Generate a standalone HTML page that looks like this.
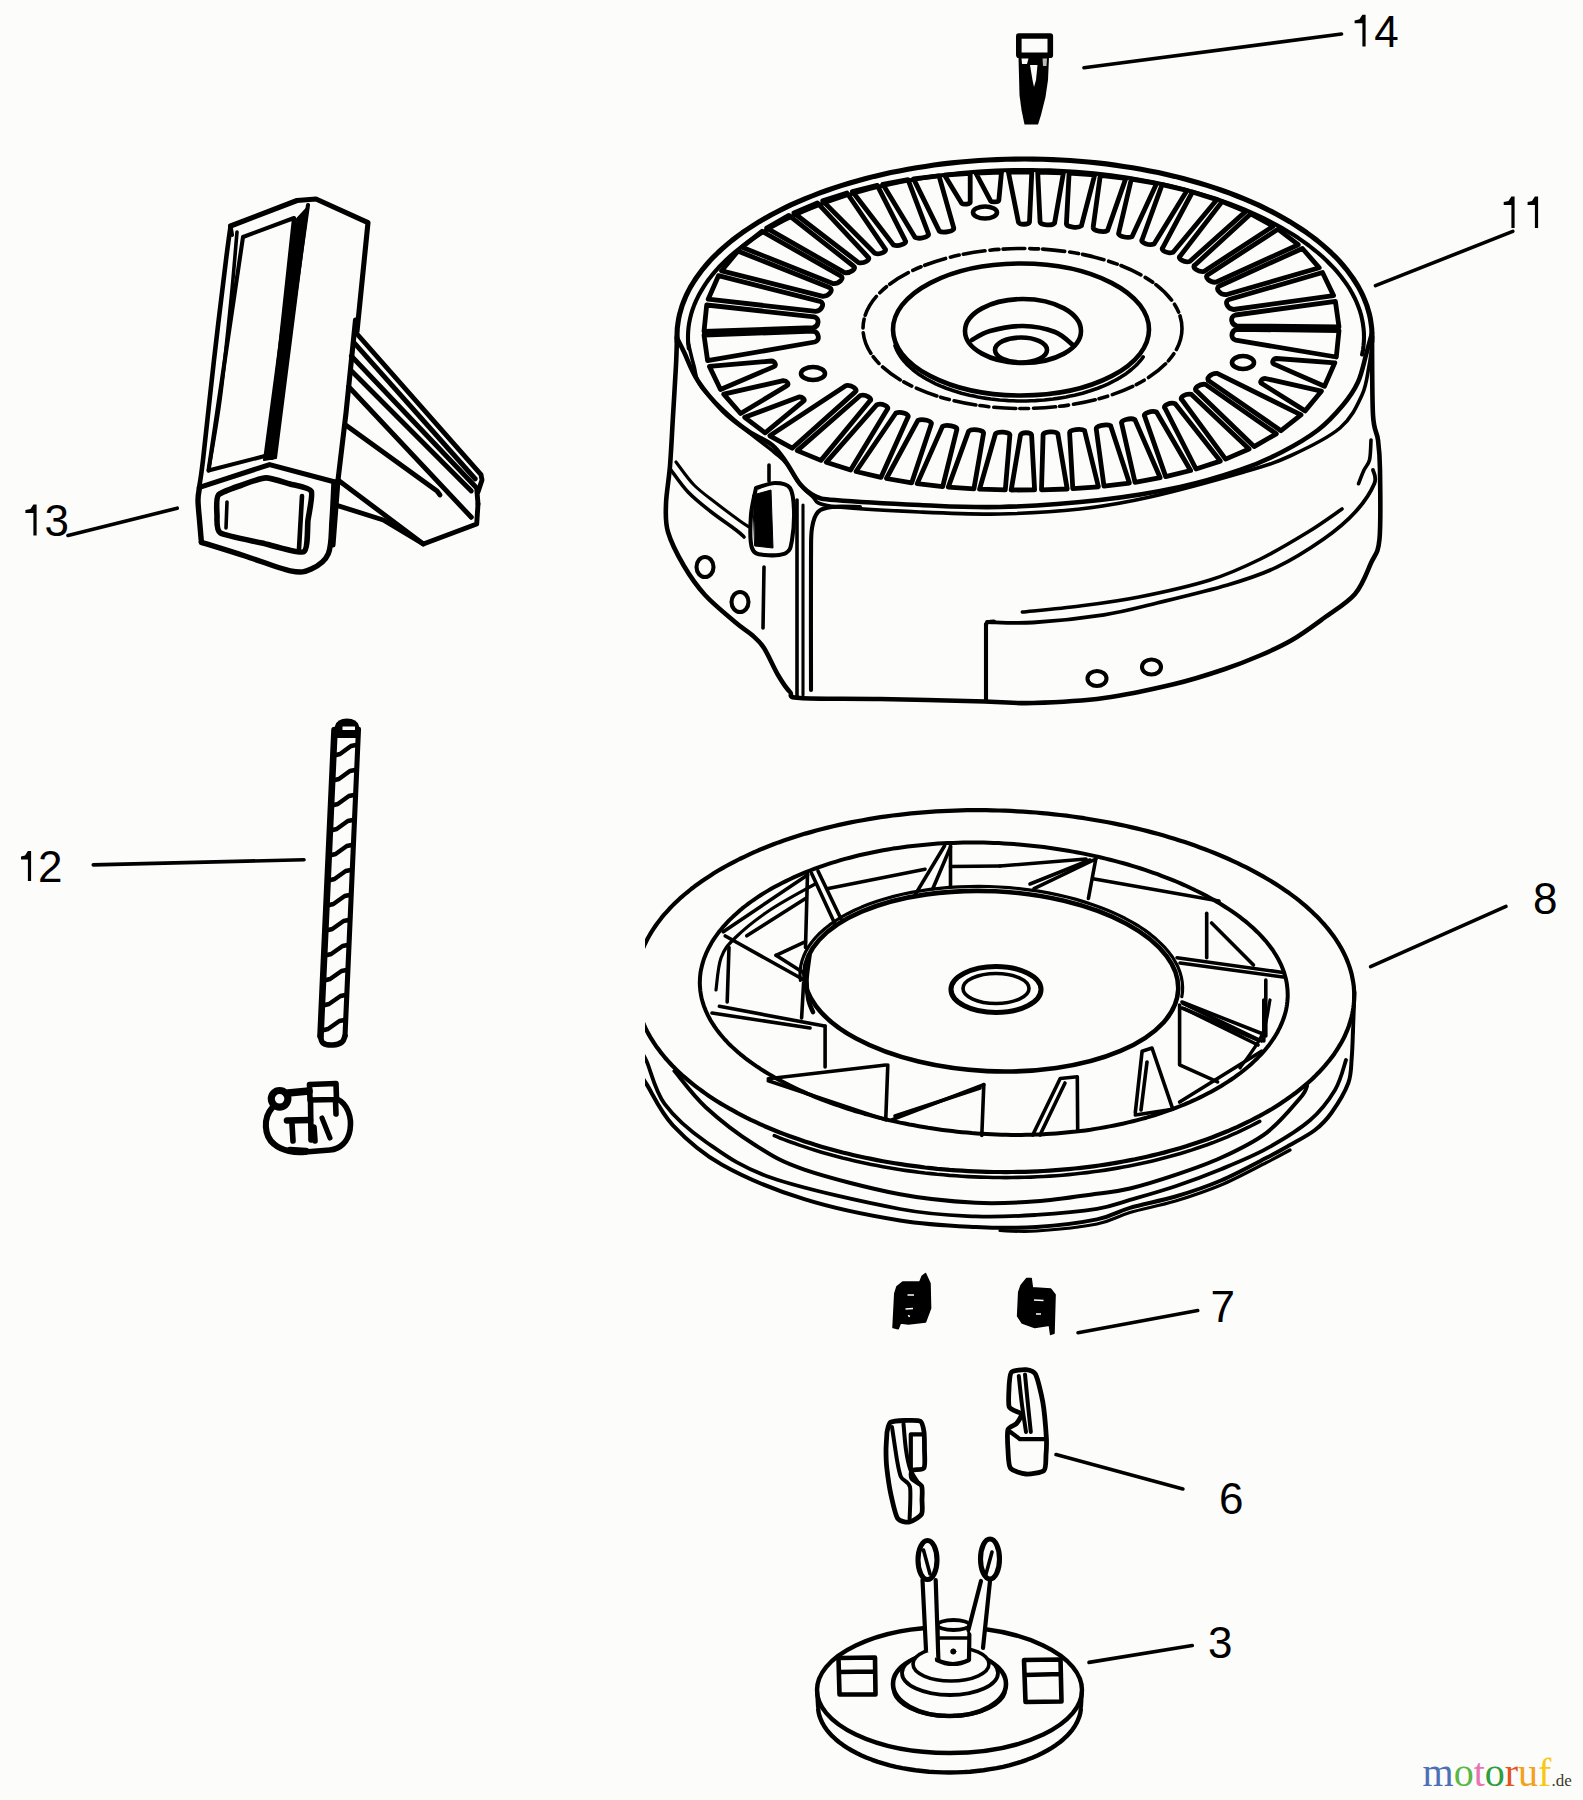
<!DOCTYPE html>
<html><head><meta charset="utf-8"><style>
html,body{margin:0;padding:0;background:#fcfdfb;}
svg{display:block;}
.lb{font-family:"Liberation Sans",sans-serif;font-size:44px;fill:#000;stroke:none;}
</style></head><body>
<svg width="1583" height="1800" viewBox="0 0 1583 1800" xmlns="http://www.w3.org/2000/svg">
<defs><clipPath id="clipP"><rect x="645" y="0" width="1000" height="1800"/></clipPath></defs>
<rect width="1583" height="1800" fill="#fcfdfb"/>
<g fill="none" stroke="#000" stroke-linecap="round" stroke-linejoin="round">
<path d="M677.2,342.2 L677,337.5 L677.1,332.9 L677.3,328.2 L677.9,323.6 L678.6,318.9 L679.6,314.3 L680.9,309.7 L682.3,305.1 L684.1,300.5 L686,295.9 L688.2,291.4 L690.6,286.9 L693.3,282.5 L696.2,278 L699.3,273.7 L702.6,269.3 L706.2,265 L709.9,260.8 L713.9,256.6 L718.1,252.5 L722.6,248.4 L727.2,244.4 L732,240.4 L737.1,236.5 L742.3,232.7 L747.8,229 L753.4,225.3 L759.2,221.7 L765.2,218.2 L771.4,214.7 L777.7,211.4 L784.3,208.1 L790.9,204.9 L797.8,201.9 L804.8,198.9 L812,196 L819.3,193.2 L826.7,190.5 L834.3,187.9 L842,185.4 L849.9,183 L857.9,180.7 L865.9,178.5 L874.1,176.4 L882.4,174.5 L890.8,172.6 L899.3,170.9 L907.9,169.3 L916.5,167.8 L925.3,166.4 L934.1,165.1 L942.9,163.9 L951.9,162.9 L960.8,162 L969.8,161.2 L978.9,160.5 L988,160 L997.1,159.6 L1006.2,159.2 L1015.4,159.1 L1024.5,159 L1033.6,159.1 L1042.8,159.2 L1051.9,159.6 L1061,160 L1070.1,160.5 L1079.2,161.2 L1088.2,162 L1097.1,162.9 L1106.1,163.9 L1114.9,165.1 L1123.7,166.4 L1132.5,167.8 L1141.1,169.3 L1149.7,170.9 L1158.2,172.6 L1166.6,174.5 L1174.9,176.4 L1183.1,178.5 L1191.1,180.7 L1199.1,183 L1207,185.4 L1214.7,187.9 L1222.3,190.5 L1229.7,193.2 L1237,196 L1244.2,198.9 L1251.2,201.9 L1258.1,204.9 L1264.7,208.1 L1271.3,211.4 L1277.6,214.7 L1283.8,218.2 L1289.8,221.7 L1295.6,225.3 L1301.2,229 L1306.7,232.7 L1311.9,236.5 L1317,240.4 L1321.8,244.4 L1326.4,248.4 L1330.9,252.5 L1335.1,256.6 L1339.1,260.8 L1342.8,265 L1346.4,269.3 L1349.7,273.7 L1352.8,278 L1355.7,282.5 L1358.4,286.9 L1360.8,291.4 L1363,295.9 L1364.9,300.5 L1366.7,305.1 L1368.1,309.7 L1369.4,314.3 L1370.4,318.9 L1371.1,323.6 L1371.7,328.2 L1371.9,332.9 L1372,337.5 L1371.8,342.2" stroke-width="5.1"/>
<path d="M688.8,348.6 L688.3,344.3 L688,339.9 L688,335.5 L688.2,331.1 L688.6,326.7 L689.3,322.3 L690.2,317.9 L691.3,313.6 L692.7,309.2 L694.3,304.9 L696.1,300.6 L698.2,296.3 L700.5,292.1 L703,287.9 L705.7,283.7 L708.6,279.5 L711.8,275.4 L715.2,271.4 L718.8,267.3 L722.6,263.4 L726.6,259.5 L730.9,255.6 L735.3,251.8 L740,248 L744.8,244.3 L749.8,240.7 L755.1,237.2 L760.5,233.7 L766.1,230.3 L771.8,226.9 L777.8,223.6 L783.9,220.5 L790.2,217.4 L796.7,214.3 L803.3,211.4 L810,208.5 L816.9,205.8 L824,203.1 L831.2,200.5 L838.5,198 L846,195.6 L853.6,193.4 L861.3,191.2 L869.1,189.1 L877.1,187.1 L885.1,185.2 L893.2,183.4 L901.5,181.7 L909.8,180.2 L918.2,178.7 L926.6,177.4 L935.2,176.1 L943.8,175 L952.4,174 L961.1,173.1 L969.9,172.3 L978.7,171.6 L987.5,171.1 L996.4,170.6 L1005.2,170.3 L1014.1,170.1 L1023,170 L1031.9,170 L1040.8,170.2 L1049.7,170.4 L1058.5,170.8 L1067.4,171.3 L1076.2,171.9 L1085,172.6 L1093.7,173.4 L1102.4,174.3 L1111,175.4 L1119.6,176.5 L1128.1,177.8 L1136.6,179.2 L1144.9,180.7 L1153.2,182.3 L1161.4,184 L1169.5,185.8 L1177.5,187.7 L1185.4,189.7 L1193.2,191.9 L1200.9,194.1 L1208.4,196.4 L1215.9,198.8 L1223.2,201.4 L1230.3,204 L1237.3,206.7 L1244.2,209.5 L1250.9,212.3 L1257.5,215.3 L1263.9,218.4 L1270.1,221.5 L1276.2,224.7 L1282.1,228 L1287.8,231.4 L1293.3,234.8 L1298.7,238.3 L1303.8,241.9 L1308.8,245.5 L1313.6,249.3 L1318.2,253 L1322.5,256.8 L1326.7,260.7 L1330.6,264.7 L1334.4,268.7 L1337.9,272.7 L1341.2,276.8 L1344.3,280.9 L1347.2,285 L1349.9,289.2 L1352.3,293.5 L1354.5,297.7 L1356.5,302 L1358.2,306.3 L1359.8,310.6 L1361.1,315 L1362.1,319.4 L1362.9,323.7 L1363.5,328.1 L1363.9,332.5 L1364,336.9 L1363.9,341.3 L1363.5,345.7 L1363,350.1 L1362.1,354.5" stroke-width="4.1"/>
<path d="M677,336 C676.8,340.8 676.7,351.7 676,365 C675.3,378.3 674,399.2 673,416 C672,432.8 671.2,451.3 670,466 C668.8,480.7 666.3,493 666,504 C665.7,515 665,521.7 668,532 C671,542.3 677.8,555.5 684,566 C690.2,576.5 696.5,585.7 705,595 C713.5,604.3 727.2,615.3 735,622 C742.8,628.7 747.2,630.7 752,635 C756.8,639.3 759.7,641.3 764,648 C768.3,654.7 773.7,667.7 778,675 C782.3,682.3 786.3,688.2 790,692 C793.7,695.8 785,696.8 800,698 C815,699.2 849.2,698.4 880,699 C910.8,699.6 959.5,700.8 985,701.5 C1010.5,702.2 1013.2,703.6 1033,703 C1052.8,702.4 1080.4,701.2 1104,698 C1127.6,694.8 1154.3,688.8 1174.5,684 C1194.7,679.2 1210.8,673.8 1225,669 C1239.2,664.2 1248.8,660.3 1260,655.5 C1271.2,650.7 1281.3,646.2 1292,640 C1302.7,633.8 1313.5,625.7 1324,618 C1334.5,610.3 1347.2,603.2 1355,594 C1362.8,584.8 1366.9,572.2 1371,563 C1375.1,553.8 1378,554.5 1379.5,539 C1381,523.5 1380.2,486.5 1380,470 C1379.8,453.5 1379.2,449.2 1378,440 C1376.8,430.8 1374,432.3 1373,415 C1372,397.7 1372.2,349.2 1372,336" stroke-width="4.6"/>
<path d="M677,338 C678.2,340.3 680.5,344.8 684,352 C687.5,359.2 691.5,371.2 698,381 C704.5,390.8 714.7,402.7 723,411 C731.3,419.3 739.8,425.3 748,431 C756.2,436.7 765.7,439.8 772,445 C778.3,450.2 781.3,455.5 786,462 C790.7,468.5 795.2,478.3 800,484 C804.8,489.7 809.2,493.3 815,496 C820.8,498.7 817.5,498.5 835,500 C852.5,501.5 892.5,503.8 920,505 C947.5,506.2 970,507.8 1000,507 C1030,506.2 1070,503.3 1100,500 C1130,496.7 1156.7,492 1180,487 C1203.3,482 1223,475.8 1240,470 C1257,464.2 1269,458.7 1282,452 C1295,445.3 1307.8,437.8 1318,430 C1328.2,422.2 1336.3,413 1343,405 C1349.7,397 1354.2,390.3 1358,382 C1361.8,373.7 1363.7,363.2 1366,355 C1368.3,346.8 1371,336.7 1372,333" stroke-width="4.6"/>
<path d="M688,342 C689,346 691.7,358.3 694,366 C696.3,373.7 694.3,378.2 702,388 C709.7,397.8 728,414.3 740,425 C752,435.7 766.3,445.7 774,452 C781.7,458.3 781.8,457.8 786,463 C790.2,468.2 794.7,477.5 799,483 C803.3,488.5 806.8,492.2 812,496 C817.2,499.8 812,503.3 830,506 C848,508.7 891.7,510.7 920,512 C948.3,513.3 973.3,514.5 1000,514 C1026.7,513.5 1055,511.8 1080,509 C1105,506.2 1122.7,503.2 1150,497 C1177.3,490.8 1220.7,478.8 1244,472 C1267.3,465.2 1274,463.3 1290,456 C1306,448.7 1328,438.2 1340,428 C1352,417.8 1357.2,405.3 1362,395 C1366.8,384.7 1367.3,374.3 1369,366 C1370.7,357.7 1371.5,348.5 1372,345" stroke-width="3.6"/>
<path d="M671,470 C673.8,473.7 681.5,485.2 688,492 C694.5,498.8 702,504.7 710,511 C718,517.3 730.3,525.7 736,530 C741.7,534.3 742.7,535.8 744,537" stroke-width="3.6"/>
<path d="M676,462 C679,465.8 687.3,478.2 694,485 C700.7,491.8 708.3,497 716,503 C723.7,509 734.5,517 740,521 C745.5,525 747.5,526 749,527" stroke-width="3.1"/>
<path d="M1373,470 C1373.2,472.3 1377.2,476.7 1374.3,483.7 C1371.3,490.7 1363.7,502.8 1355.3,512 C1346.9,521.2 1336.9,529.8 1323.7,539 C1310.5,548.2 1292.3,559.7 1276.3,567.4 C1260.3,575.1 1247.5,579.1 1227.6,585 C1207.7,590.9 1177.6,598 1157,603 C1136.4,608 1124.7,611.5 1104,614.8 C1083.3,618 1052.5,621.3 1033,622.5 C1013.5,623.7 994.7,622.1 987,622" stroke-width="3.8"/>
<path d="M1342,509 C1336.3,512.8 1321.6,523.7 1308,532 C1294.4,540.3 1276.8,551 1260.5,559 C1244.2,567 1230.2,573.7 1210,580 C1189.8,586.3 1160.7,592.7 1139,597 C1117.3,601.3 1099.4,603.5 1080,606 C1060.6,608.5 1032,611 1022.4,612" stroke-width="3.6"/>
<path d="M1358.5,483.7 C1359.4,481.4 1362.2,473.9 1364,470 C1365.8,466.1 1368.3,465 1369.5,460 C1370.7,455 1370.8,443.3 1371,440" stroke-width="3.6"/>
<path d="M811,690 C811,668.3 810.8,587 811,560 C811.2,533 810.8,536 812,528 C813.2,520 814.7,515.5 818,512 C821.3,508.5 825,507.8 832,507 C839,506.2 855.3,507 860,507" stroke-width="4.1"/>
<path d="M797,500 L797,697" stroke-width="3.6"/>
<path d="M803,505 L803,695" stroke-width="3.1"/>
<path d="M986,701 L986,624 Q987,621.5 994,621.5" stroke-width="4.1"/>
<path d="M764,567 L763,628" stroke-width="3.6"/>
<path d="M769,465 L769,481" stroke-width="3.6"/>
<ellipse cx="705" cy="567" rx="8.5" ry="10" stroke-width="4.1"/>
<ellipse cx="740" cy="602" rx="8.5" ry="10" stroke-width="4.1"/>
<ellipse cx="1097" cy="678.5" rx="9.5" ry="7.5" stroke-width="4.1"/>
<ellipse cx="1151.5" cy="667" rx="9.5" ry="7.5" stroke-width="4.1"/>
<path d="M756,488 C759.2,487.2 769.3,483 775,483 C780.7,483 786.8,483.5 790,488 C793.2,492.5 793.7,501.3 794,510 C794.3,518.7 793.3,532.8 792,540 C790.7,547.2 790.5,550.5 786,553 C781.5,555.5 770.7,555.8 765,555 C759.3,554.2 754.3,554.7 752,548 C749.7,541.3 750.3,525 751,515 C751.7,505 755.2,492.5 756,488" stroke-width="4.1"/>
<path d="M753,495 L771,490 L773,548 L755,546Z" fill="#000" stroke-width="1"/>
<ellipse cx="1022.5" cy="328.5" rx="159.5" ry="80" stroke-width="3.6" stroke-dasharray="22 5 9 4"/>
<ellipse cx="1021" cy="329.5" rx="128" ry="66" stroke-width="4.6"/>
<path d="M1143.2,356.9 L1141.6,359.1 L1139.8,361.3 L1137.9,363.4 L1135.9,365.5 L1133.7,367.5 L1131.4,369.5 L1128.9,371.5 L1126.4,373.4 L1123.7,375.2 L1120.8,377.1 L1117.9,378.8 L1114.8,380.5 L1111.6,382.2 L1108.3,383.8 L1104.9,385.3 L1101.4,386.8 L1097.8,388.2 L1094.1,389.5 L1090.4,390.8 L1086.5,392 L1082.6,393.2 L1078.5,394.2 L1074.5,395.2 L1070.3,396.1 L1066.1,397 L1061.9,397.7 L1057.6,398.4 L1053.2,399 L1048.8,399.5 L1044.4,400 L1040,400.3 L1035.5,400.6 L1031,400.8 L1026.5,401 L1022,401 L1017.5,401 L1013,400.8 L1008.5,400.6 L1004,400.3 L999.6,400 L995.2,399.5 L990.8,399 L986.4,398.4 L982.1,397.7 L977.9,397 L973.7,396.1 L969.5,395.2 L965.5,394.2 L961.4,393.2 L957.5,392 L953.6,390.8 L949.9,389.5 L946.2,388.2 L942.6,386.8 L939.1,385.3 L935.7,383.8 L932.4,382.2 L929.2,380.5 L926.1,378.8 L923.2,377.1 L920.3,375.2 L917.6,373.4 L915.1,371.5 L912.6,369.5 L910.3,367.5 L908.1,365.5 L906.1,363.4 L904.2,361.3 L902.4,359.1 L900.8,356.9 L899.3,354.7 L898,352.5 L896.8,350.2 L895.8,347.9 L895,345.6" stroke-width="3.6"/>
<ellipse cx="1023" cy="331" rx="58" ry="32" stroke-width="4.6"/>
<path d="M972,340 C975,338.5 981.5,333.3 990,331 C998.5,328.7 1012.2,325.8 1023,326 C1033.8,326.2 1046.5,328.7 1055,332 C1063.5,335.3 1070.8,343.7 1074,346" stroke-width="4.6"/>
<ellipse cx="1021" cy="350" rx="26" ry="12.5" stroke-width="4.6"/>
<path d="M1008.4,172.1 L1018.4,222.1 C1019.6,225 1028.3,225 1029.5,222 L1031.8,172 Z" stroke-width="4.8"/>
<path d="M1037.7,172.1 L1040.1,222.3 C1041.1,225.3 1052.4,225.9 1054.6,223 L1063.4,172.8 Z" stroke-width="4.8"/>
<path d="M1069.1,173.1 L1066.4,224 C1066.7,227.1 1078.4,228.5 1081.4,225.8 L1094.7,174.9 Z" stroke-width="4.8"/>
<path d="M1100.3,175.4 L1093.1,227.6 C1092.6,230.7 1103.9,232.9 1107.6,230.4 L1125.8,178.4 Z" stroke-width="4.8"/>
<path d="M1131.3,179.2 L1118.7,233 C1117.4,236 1127.8,238.8 1132.1,236.6 L1156.6,183.5 Z" stroke-width="4.8"/>
<path d="M1162.1,184.6 L1142.1,239.7 C1140,242.6 1149.3,245.9 1154.1,244 L1187,190.5 Z" stroke-width="4.8"/>
<path d="M1192.4,192 L1162.8,247.6 C1160,250.3 1168,254 1173.1,252.3 L1216.8,199.7 Z" stroke-width="4.8"/>
<path d="M1222.1,201.6 L1180.2,256 C1176.8,258.5 1184.2,262.8 1189.7,261.5 L1245.8,211.4 Z" stroke-width="4.8"/>
<path d="M1250.8,213.8 L1195,264.9 C1191.2,267.3 1198.1,272.3 1203.9,271.4 L1273.2,226.2 Z" stroke-width="4.8"/>
<path d="M1277.9,229.2 L1207.9,274.7 C1203.6,276.9 1209.9,282.8 1215.9,282.2 L1298.3,244.7 Z" stroke-width="4.8"/>
<path d="M1302.4,248.5 L1219.4,286 C1214.6,288 1219.8,294.8 1226,294.7 L1319.3,267.8 Z" stroke-width="4.8"/>
<path d="M1322.5,272.5 L1229,299.5 C1223.8,301.3 1227.4,309.1 1233.6,309.5 L1333.6,295.6 Z" stroke-width="4.8"/>
<path d="M1335.4,301.3 L1235.3,315 C1229.6,316.4 1230.9,324.8 1236.9,325.8 L1339,327 Z" stroke-width="4.8"/>
<path d="M1339,330.6 L1237,329.3 C1231,330.3 1230,338.8 1235.7,340.2 L1336.3,357 Z" stroke-width="4.8"/>
<path d="M1334.8,362.8 L1276.6,358.5 C1273.1,358.7 1271.2,363.2 1274.1,364.1 L1324.5,386.3 Z" stroke-width="4.8"/>
<path d="M1321.4,391.2 L1265.3,378.5 C1261.8,378.5 1259,382.4 1261.7,383.5 L1305.1,410.9 Z" stroke-width="4.8"/>
<path d="M1301,414.8 L1217.2,373.4 C1211.1,372.9 1205,378.9 1209.3,381.1 L1281,430.7 Z" stroke-width="4.8"/>
<path d="M1276.3,433.8 L1205.4,384.4 C1199.6,383.5 1192.7,388.6 1196.6,391 L1254.1,446.6 Z" stroke-width="4.8"/>
<path d="M1249.1,449 L1191.5,394.4 C1186,393.1 1178.6,397.5 1182.1,400 L1225.6,459.1 Z" stroke-width="4.8"/>
<path d="M1220.3,461.1 L1175.2,403.7 C1170,402 1162.2,405.8 1165.1,408.4 L1196,469 Z" stroke-width="4.8"/>
<path d="M1190.6,470.5 L1156.5,412 C1151.7,410.1 1142.5,413.5 1144.7,416.4 L1165.7,476.6 Z" stroke-width="4.8"/>
<path d="M1160.2,477.7 L1134.9,419.6 C1130.5,417.4 1120.2,420.3 1121.6,423.3 L1135,482.3 Z" stroke-width="4.8"/>
<path d="M1129.4,483.1 L1110.7,425.9 C1106.9,423.5 1095.7,425.7 1096.2,428.8 L1104,486.2 Z" stroke-width="4.8"/>
<path d="M1098.4,486.8 L1084.6,430.7 C1081.5,428.1 1069.8,429.5 1069.6,432.6 L1072.8,488.7 Z" stroke-width="4.8"/>
<path d="M1067.2,489 L1057.8,433.7 C1055.4,430.9 1044,431.6 1043.1,434.6 L1041.5,489.8 Z" stroke-width="4.8"/>
<path d="M1034.6,489.9 L1031.6,434.9 C1030.4,432 1021.7,432 1020.5,435 L1011.2,490 Z" stroke-width="4.8"/>
<path d="M1005.3,489.9 L1009.9,434.7 C1008.9,431.7 997.6,431.1 995.4,434 L979.6,489.2 Z" stroke-width="4.8"/>
<path d="M973.9,488.9 L983.6,433 C983.3,429.9 971.6,428.5 968.6,431.2 L948.3,487.1 Z" stroke-width="4.8"/>
<path d="M942.7,486.6 L956.9,429.4 C957.4,426.3 946.1,424.1 942.4,426.6 L917.2,483.6 Z" stroke-width="4.8"/>
<path d="M911.7,482.8 L931.3,424 C932.6,421 922.2,418.2 917.9,420.4 L886.4,478.5 Z" stroke-width="4.8"/>
<path d="M880.9,477.4 L907.9,417.3 C910,414.4 900.7,411.1 895.9,413 L856,471.5 Z" stroke-width="4.8"/>
<path d="M850.6,470 L887.2,409.4 C890,406.7 882,403 876.9,404.7 L826.2,462.3 Z" stroke-width="4.8"/>
<path d="M820.9,460.4 L869.8,401 C873.2,398.5 865.8,394.2 860.3,395.5 L797.2,450.6 Z" stroke-width="4.8"/>
<path d="M792.2,448.2 L855,392.1 C858.8,389.7 851.9,384.7 846.1,385.6 L769.8,435.8 Z" stroke-width="4.8"/>
<path d="M765.1,432.8 L803.5,401.2 C805.9,400 802.4,396.7 799,397 L744.7,417.3 Z" stroke-width="4.8"/>
<path d="M740.6,413.5 L787,385.6 C789.7,384.4 786.8,380.6 783.3,380.7 L723.7,394.2 Z" stroke-width="4.8"/>
<path d="M720.5,389.5 L774,366.6 C776.9,365.6 774.9,361.3 771.4,361 L709.4,366.4 Z" stroke-width="4.8"/>
<path d="M707.6,360.7 L814.7,342 C820.4,340.6 819.1,332.2 813.1,331.2 L704,335 Z" stroke-width="4.8"/>
<path d="M704,331.4 L813,327.7 C819,326.7 820,318.2 814.3,316.8 L706.7,305 Z" stroke-width="4.8"/>
<path d="M708.2,299.2 L815.7,311.4 C821.9,310.9 825.3,303 820,301.3 L718.5,275.7 Z" stroke-width="4.8"/>
<path d="M721.6,270.8 L822.9,296.3 C829.1,296.4 834.2,289.5 829.4,287.5 L737.9,251.1 Z" stroke-width="4.8"/>
<path d="M742,247.2 L832.8,283.6 C838.9,284.1 845,278.1 840.7,275.9 L762,231.3 Z" stroke-width="4.8"/>
<path d="M766.7,228.2 L844.6,272.6 C850.4,273.5 857.3,268.4 853.4,266 L788.9,215.4 Z" stroke-width="4.8"/>
<path d="M793.9,213 L858.5,262.6 C864,263.9 871.4,259.5 867.9,257 L817.4,202.9 Z" stroke-width="4.8"/>
<path d="M822.7,200.9 L874.8,253.3 C880,255 887.8,251.2 884.9,248.6 L847,193 Z" stroke-width="4.8"/>
<path d="M852.4,191.5 L893.5,245 C898.3,246.9 907.5,243.5 905.3,240.6 L877.3,185.4 Z" stroke-width="4.8"/>
<path d="M882.8,184.3 L915.1,237.4 C919.5,239.6 929.8,236.7 928.4,233.7 L908,179.7 Z" stroke-width="4.8"/>
<path d="M913.6,178.9 L939.3,231.1 C943.1,233.5 954.3,231.3 953.8,228.2 L939,175.8 Z" stroke-width="4.8"/>
<path d="M944.6,175.2 L961.8,203.4 C963.6,204.8 970.1,204 970.2,202.3 L970.2,173.3 Z" stroke-width="4.8"/>
<path d="M975.8,173 L990.6,200.9 C991.9,202.5 998.2,202.1 998.8,200.4 L1001.5,172.2 Z" stroke-width="4.8"/>
<ellipse cx="985" cy="212.5" rx="12" ry="6" stroke-width="4.6"/>
<ellipse cx="813" cy="373.5" rx="12" ry="6.5" stroke-width="4.6"/>
<ellipse cx="1243" cy="362.5" rx="11" ry="6.5" stroke-width="4.6"/>
<path d="M635.5,990 L635.4,986.8 L635.4,983.6 L635.5,980.4 L635.7,977.2 L636.1,974 L636.5,970.8 L637.1,967.6 L637.8,964.4 L638.6,961.2 L639.5,958.1 L640.5,954.9 L641.7,951.7 L642.9,948.5 L644.3,945.4 L645.8,942.3 L647.4,939.1 L649.1,936 L650.9,932.9 L652.8,929.9 L654.9,926.8 L657,923.7 L659.3,920.7 L661.6,917.7 L664.1,914.7 L666.7,911.8 L669.4,908.8 L672.2,905.9 L675.1,903 L678.1,900.2 L681.2,897.3 L684.5,894.5 L687.8,891.8 L691.2,889 L694.7,886.3 L698.3,883.7 L702.1,881 L705.9,878.4 L709.8,875.9 L713.8,873.3 L717.9,870.8 L722.1,868.4 L726.3,866 L730.7,863.6 L735.1,861.3 L739.6,859 L744.3,856.8 L748.9,854.6 L753.7,852.4 L758.5,850.3 L763.5,848.3 L768.5,846.3 L773.5,844.3 L778.6,842.4 L783.8,840.6 L789.1,838.8 L794.4,837 L799.8,835.3 L805.3,833.6 L810.8,832.1 L816.3,830.5 L822,829 L827.6,827.6 L833.3,826.2 L839.1,824.9 L844.9,823.6 L850.8,822.4 L856.7,821.3 L862.6,820.2 L868.6,819.1 L874.6,818.1 L880.6,817.2 L886.6,816.3 L892.7,815.5 L898.9,814.8 L905,814.1 L911.2,813.4 L917.3,812.8 L923.5,812.3 L929.8,811.8 L936,811.4 L942.2,811.1 L948.5,810.8 L954.7,810.6 L961,810.4 L967.2,810.2 L973.5,810.2 L979.8,810.2 L986,810.2 L992.3,810.3 L998.5,810.5 L1004.8,810.7 L1011,810.9 L1017.2,811.3 L1023.4,811.6 L1029.6,812.1 L1035.8,812.5 L1041.9,813.1 L1048.1,813.7 L1054.2,814.3 L1060.3,815 L1066.3,815.7 L1072.3,816.5 L1078.3,817.4 L1084.3,818.2 L1090.2,819.2 L1096.1,820.2 L1102,821.2 L1107.8,822.3 L1113.6,823.4 L1119.4,824.6 L1125.1,825.8 L1130.8,827.1 L1136.4,828.4 L1142,829.7 L1147.5,831.1 L1153,832.6 L1158.4,834.1 L1163.8,835.6 L1169.1,837.2 L1174.4,838.8 L1179.6,840.4 L1184.8,842.1 L1189.9,843.8 L1194.9,845.6 L1199.9,847.4 L1204.9,849.2 L1209.7,851.1 L1214.5,853 L1219.3,855 L1224,857 L1228.6,859 L1233.1,861.1 L1237.6,863.1 L1242,865.3 L1246.4,867.4 L1250.6,869.6 L1254.8,871.8 L1258.9,874.1 L1263,876.4 L1267,878.7 L1270.9,881 L1274.7,883.4 L1278.4,885.8 L1282.1,888.2 L1285.7,890.7 L1289.2,893.1 L1292.6,895.6 L1296,898.2 L1299.2,900.7 L1302.4,903.3 L1305.5,905.9 L1308.5,908.6 L1311.4,911.2 L1314.2,913.9 L1316.9,916.6 L1319.6,919.3 L1322.1,922.1 L1324.6,924.8 L1327,927.6 L1329.2,930.4 L1331.4,933.2 L1333.5,936.1 L1335.5,938.9 L1337.4,941.8 L1339.2,944.7 L1340.9,947.6 L1342.5,950.6 L1344,953.5 L1345.4,956.4 L1346.7,959.4 L1347.9,962.4 L1349,965.4 L1350,968.4 L1350.9,971.4 L1351.7,974.4 L1352.3,977.5 L1352.9,980.5 L1353.4,983.5 L1353.8,986.6 L1354,989.7 L1354.2,992.7 L1354.2,995.8 L1354.1,998.9 L1354,1001.9 L1353.7,1005 L1353.3,1008.1 L1352.8,1011.2 L1352.2,1014.2 L1351.5,1017.3 L1350.6,1020.4 L1349.7,1023.5 L1348.7,1026.5 L1347.5,1029.6 L1346.2,1032.6 L1344.9,1035.7 L1343.4,1038.7 L1341.8,1041.7 L1340.1,1044.7 L1338.3,1047.7 L1336.4,1050.7 L1334.4,1053.7 L1332.2,1056.7 L1330,1059.6 L1327.6,1062.5 L1325.2,1065.4 L1322.6,1068.3 L1320,1071.2 L1317.2,1074 L1314.4,1076.9 L1311.4,1079.7 L1308.3,1082.5 L1305.2,1085.2 L1301.9,1087.9 L1298.5,1090.6 L1295.1,1093.3 L1291.5,1095.9 L1287.8,1098.5 L1284.1,1101.1 L1280.2,1103.7 L1276.3,1106.2 L1272.3,1108.7 L1268.2,1111.1 L1264,1113.5 L1259.7,1115.9 L1255.3,1118.2 L1250.8,1120.5 L1246.3,1122.7 L1241.7,1124.9 L1237,1127.1 L1232.2,1129.2 L1227.4,1131.3 L1222.4,1133.3 L1217.4,1135.3 L1212.4,1137.3 L1207.2,1139.2 L1202,1141 L1196.8,1142.8 L1191.4,1144.6 L1186.1,1146.3 L1180.6,1147.9 L1175.1,1149.5 L1169.5,1151.1 L1163.9,1152.6 L1158.3,1154 L1152.5,1155.4 L1146.8,1156.7 L1141,1158 L1135.1,1159.3 L1129.2,1160.4 L1123.3,1161.5 L1117.3,1162.6 L1111.3,1163.6 L1105.3,1164.6 L1099.2,1165.5 L1093.1,1166.3 L1087,1167.1 L1080.8,1167.8 L1074.7,1168.5 L1068.5,1169.1 L1062.3,1169.7 L1056,1170.2 L1049.8,1170.6 L1043.5,1171 L1037.3,1171.3 L1031,1171.6 L1024.7,1171.8 L1018.4,1171.9 L1012.2,1172 L1005.9,1172.1 L999.6,1172 L993.3,1172 L987,1171.8 L980.8,1171.6 L974.5,1171.4 L968.2,1171.1 L962,1170.7 L955.8,1170.3 L949.6,1169.9 L943.4,1169.3 L937.2,1168.8 L931.1,1168.1 L925,1167.5 L918.9,1166.7 L912.8,1165.9 L906.7,1165.1 L900.7,1164.2 L894.7,1163.2 L888.8,1162.2 L882.9,1161.2 L877,1160.1 L871.2,1158.9 L865.4,1157.7 L859.6,1156.5 L853.9,1155.2 L848.2,1153.8 L842.6,1152.5 L837,1151 L831.5,1149.5 L826,1148 L820.6,1146.4 L815.2,1144.8 L809.9,1143.1 L804.7,1141.4 L799.4,1139.6 L794.3,1137.8 L789.2,1136 L784.2,1134.1 L779.2,1132.2 L774.3,1130.2 L769.5,1128.2 L764.7,1126.2 L760,1124.1 L755.4,1121.9 L750.8,1119.8 L746.3,1117.6 L741.9,1115.3 L737.6,1113.1 L733.3,1110.7 L729.1,1108.4 L725,1106 L720.9,1103.6 L717,1101.2 L713.1,1098.7 L709.3,1096.2 L705.6,1093.6 L702,1091 L698.4,1088.4 L695,1085.8 L691.6,1083.1 L688.3,1080.4 L685.1,1077.7 L682,1075 L679,1072.2 L676.1,1069.4 L673.2,1066.6 L670.5,1063.7 L667.9,1060.9 L665.3,1058 L662.9,1055 L660.5,1052.1 L658.3,1049.1 L656.1,1046.2 L654.1,1043.2 L652.2,1040.1 L650.3,1037.1 L648.6,1034.1 L646.9,1031 L645.4,1027.9 L644,1024.8 L642.7,1021.7 L641.5,1018.6 L640.4,1015.4 L639.4,1012.3 L638.5,1009.1 L637.7,1006 L637,1002.8 L636.5,999.6 L636,996.4 L635.7,993.2Z" stroke-width="4.2" clip-path="url(#clipP)"/>
<path d="M774.3,1135.7 L779.2,1137.7 L784.2,1139.6 L789.2,1141.5 L794.3,1143.3 L799.4,1145.1 L804.7,1146.9 L809.9,1148.6 L815.2,1150.3 L820.6,1151.9 L826,1153.5 L831.5,1155 L837,1156.5 L842.6,1158 L848.2,1159.3 L853.9,1160.7 L859.6,1162 L865.4,1163.2 L871.2,1164.4 L877,1165.6 L882.9,1166.7 L888.8,1167.7 L894.7,1168.7 L900.7,1169.7 L906.7,1170.6 L912.8,1171.4 L918.9,1172.2 L925,1173 L931.1,1173.6 L937.2,1174.3 L943.4,1174.8 L949.6,1175.4 L955.8,1175.8 L962,1176.2 L968.2,1176.6 L974.5,1176.9 L980.8,1177.1 L987,1177.3 L993.3,1177.5 L999.6,1177.5 L1005.9,1177.6 L1012.2,1177.5 L1018.4,1177.4 L1024.7,1177.3 L1031,1177.1 L1037.3,1176.8 L1043.5,1176.5 L1049.8,1176.1 L1056,1175.7 L1062.3,1175.2 L1068.5,1174.6 L1074.7,1174 L1080.8,1173.3 L1087,1172.6 L1093.1,1171.8 L1099.2,1171 L1105.3,1170.1 L1111.3,1169.1 L1117.3,1168.1 L1123.3,1167 L1129.2,1165.9 L1135.1,1164.8 L1141,1163.5 L1146.8,1162.2 L1152.5,1160.9 L1158.3,1159.5 L1163.9,1158.1 L1169.5,1156.6 L1175.1,1155 L1180.6,1153.4 L1186.1,1151.8 L1191.4,1150.1 L1196.8,1148.3 L1202,1146.5 L1207.2,1144.7 L1212.4,1142.8 L1217.4,1140.8 L1222.4,1138.8 L1227.4,1136.8 L1232.2,1134.7 L1237,1132.6 L1241.7,1130.4 L1246.3,1128.2 L1250.8,1126 L1255.3,1123.7 L1259.7,1121.4" stroke-width="3.6"/>
<path d="M1354.5,992 L1353,1032" stroke-width="3.8"/>
<g clip-path="url(#clipP)">
<path d="M674.5,1071 C679.7,1077 692.3,1094.9 705.7,1107.2 C719.1,1119.5 738.6,1134.6 755,1145 C771.4,1155.4 780.1,1161.4 804.3,1169.6 C828.5,1177.8 871.4,1188.8 900,1194.3 C928.6,1199.8 953.1,1201.6 975.8,1202.8 C998.5,1204 1016.2,1202.8 1036.4,1201.3 C1056.6,1199.8 1081.4,1195.8 1097,1193.7 C1112.6,1191.6 1116.9,1191.6 1130,1188.5 C1143.1,1185.4 1160.3,1180 1175.5,1174.9 C1190.7,1169.8 1205.8,1164.8 1221,1157.8 C1236.2,1150.8 1253.2,1142.8 1266.5,1132.8 C1279.8,1122.8 1293.8,1105.3 1300.6,1097.5 C1307.3,1089.7 1305.9,1087.9 1307,1086" stroke-width="4"/>
<path d="M640,1050 C641.1,1051.9 642.5,1052.2 646.6,1061.2 C650.7,1070.2 654.8,1090.5 664.6,1103.9 C674.5,1117.3 687.9,1129.4 705.7,1141.7 C723.5,1154 739,1166.6 771.4,1177.8 C803.8,1189 865.9,1202.6 900,1209 C934.1,1215.4 953.1,1215.4 975.8,1216.4 C998.5,1217.4 1016.2,1216.2 1036.4,1214.9 C1056.6,1213.6 1081.4,1211.3 1097,1208.8 C1112.6,1206.3 1116.9,1203.7 1130,1199.9 C1143.1,1196.1 1160.3,1191.3 1175.5,1186.2 C1190.7,1181.1 1205.8,1175.5 1221,1169.2 C1236.2,1163 1251.7,1156.9 1266.5,1148.7 C1281.3,1140.5 1298.6,1130.1 1310,1120.3 C1321.4,1110.5 1329,1100 1335,1090 C1341,1080 1344.2,1065 1346,1060" stroke-width="3.8"/>
<path d="M640,1074 C641.1,1075.7 641.1,1075.7 646.6,1084.2 C652.1,1092.8 660.3,1111.9 672.9,1125.3 C685.5,1138.7 700.1,1152.4 722,1164.7 C743.9,1177 774.6,1189.9 804.3,1199.2 C834,1208.5 871.4,1215.9 900,1220.5 C928.6,1225.1 953.1,1225.9 975.8,1227 C998.5,1228.1 1016.2,1228.3 1036.4,1227 C1056.6,1225.7 1081.4,1222.6 1097,1219.4 C1112.6,1216.2 1116.9,1211.6 1130,1207.8 C1143.1,1204 1160.3,1201 1175.5,1196.5 C1190.7,1192 1205.8,1187 1221,1180.5 C1236.2,1174 1255,1163.7 1266.5,1157.8 C1278,1151.9 1281.9,1149.6 1290,1145 C1298.1,1140.4 1308,1135.4 1315,1130 C1322,1124.6 1326.2,1120.3 1331.7,1112.5 C1337.2,1104.7 1345,1092.1 1348.3,1083 C1351.6,1073.9 1350.9,1066.8 1351.7,1058 C1352.5,1049.2 1352.8,1034.7 1353,1030" stroke-width="4"/>
<path d="M1000,1230.5 C1006.1,1230.6 1020.2,1232.1 1036.4,1231 C1052.6,1229.9 1081.4,1227.1 1097,1224 C1112.6,1220.9 1116.9,1216.3 1130,1212.5 C1143.1,1208.7 1160.3,1205.6 1175.5,1201 C1190.7,1196.4 1205.8,1191.4 1221,1185 C1236.2,1178.6 1255,1168.3 1266.5,1162.5 C1278,1156.7 1286.1,1152.1 1290,1150" stroke-width="3.2"/>
</g>
<path d="M700.3,990.7 L700.1,988.1 L699.9,985.6 L699.8,983.1 L699.9,980.5 L700,977.9 L700.2,975.4 L700.5,972.8 L700.9,970.3 L701.5,967.7 L702.1,965.1 L702.8,962.6 L703.6,960 L704.5,957.4 L705.5,954.9 L706.6,952.3 L707.8,949.8 L709.1,947.2 L710.5,944.7 L711.9,942.1 L713.5,939.6 L715.2,937.1 L717,934.6 L718.8,932.1 L720.8,929.7 L722.8,927.2 L725,924.8 L727.2,922.4 L729.6,919.9 L732,917.6 L734.5,915.2 L737.1,912.9 L739.8,910.5 L742.5,908.2 L745.4,906 L748.4,903.7 L751.4,901.5 L754.5,899.3 L757.7,897.2 L760.9,895 L764.3,892.9 L767.7,890.9 L771.2,888.8 L774.8,886.8 L778.4,884.9 L782.1,883 L785.9,881.1 L789.8,879.2 L793.7,877.4 L797.7,875.6 L801.7,873.9 L805.8,872.2 L810,870.5 L814.2,868.9 L818.4,867.4 L822.8,865.8 L827.1,864.4 L831.6,862.9 L836.1,861.6 L840.6,860.2 L845.1,858.9 L849.8,857.7 L854.4,856.5 L859.1,855.3 L863.8,854.2 L868.6,853.2 L873.4,852.2 L878.2,851.2 L883.1,850.3 L887.9,849.5 L892.8,848.6 L897.8,847.9 L902.7,847.2 L907.7,846.5 L912.7,845.9 L917.7,845.4 L922.7,844.9 L927.8,844.4 L932.8,844 L937.9,843.6 L943,843.3 L948,843.1 L953.1,842.9 L958.2,842.7 L963.3,842.6 L968.4,842.5 L973.5,842.5 L978.6,842.5 L983.6,842.6 L988.7,842.7 L993.8,842.9 L998.8,843.1 L1003.9,843.4 L1008.9,843.7 L1014,844.1 L1019,844.5 L1024,844.9 L1029,845.4 L1033.9,845.9 L1038.9,846.5 L1043.8,847.1 L1048.7,847.7 L1053.6,848.4 L1058.5,849.2 L1063.3,849.9 L1068.1,850.7 L1072.9,851.6 L1077.6,852.5 L1082.4,853.4 L1087.1,854.4 L1091.7,855.4 L1096.4,856.4 L1101,857.5 L1105.6,858.6 L1110.1,859.7 L1114.6,860.9 L1119.1,862.1 L1123.5,863.3 L1127.9,864.5 L1132.2,865.8 L1136.5,867.2 L1140.8,868.5 L1145,869.9 L1149.2,871.3 L1153.4,872.8 L1157.5,874.2 L1161.5,875.8 L1165.5,877.3 L1169.5,878.8 L1173.4,880.4 L1177.3,882 L1181.1,883.7 L1184.8,885.3 L1188.5,887 L1192.2,888.7 L1195.8,890.5 L1199.4,892.2 L1202.9,894 L1206.3,895.8 L1209.7,897.7 L1213,899.5 L1216.3,901.4 L1219.5,903.3 L1222.6,905.2 L1225.7,907.2 L1228.7,909.1 L1231.7,911.1 L1234.6,913.2 L1237.4,915.2 L1240.1,917.2 L1242.8,919.3 L1245.5,921.4 L1248,923.5 L1250.5,925.7 L1252.9,927.8 L1255.2,930 L1257.5,932.2 L1259.7,934.4 L1261.8,936.6 L1263.8,938.9 L1265.8,941.1 L1267.7,943.4 L1269.5,945.7 L1271.2,948 L1272.9,950.3 L1274.4,952.7 L1275.9,955 L1277.3,957.4 L1278.6,959.8 L1279.8,962.2 L1281,964.6 L1282,967 L1283,969.5 L1283.9,971.9 L1284.6,974.4 L1285.3,976.9 L1286,979.4 L1286.5,981.8 L1286.9,984.3 L1287.2,986.9 L1287.5,989.4 L1287.6,991.9 L1287.7,994.4 L1287.7,997 L1287.5,999.5 L1287.3,1002 L1287,1004.6 L1286.6,1007.1 L1286.1,1009.7 L1285.5,1012.2 L1284.8,1014.7 L1284,1017.3 L1283.1,1019.8 L1282.1,1022.4 L1281,1024.9 L1279.9,1027.4 L1278.6,1029.9 L1277.3,1032.5 L1275.8,1035 L1274.3,1037.5 L1272.6,1039.9 L1270.9,1042.4 L1269.1,1044.9 L1267.2,1047.3 L1265.2,1049.7 L1263.1,1052.2 L1260.9,1054.6 L1258.6,1056.9 L1256.3,1059.3 L1253.8,1061.6 L1251.3,1064 L1248.7,1066.3 L1246,1068.5 L1243.2,1070.8 L1240.4,1073 L1237.4,1075.2 L1234.4,1077.4 L1231.3,1079.5 L1228.1,1081.6 L1224.9,1083.7 L1221.6,1085.8 L1218.2,1087.8 L1214.7,1089.8 L1211.2,1091.7 L1207.6,1093.6 L1203.9,1095.5 L1200.1,1097.4 L1196.3,1099.2 L1192.5,1100.9 L1188.6,1102.7 L1184.6,1104.4 L1180.5,1106 L1176.4,1107.6 L1172.3,1109.2 L1168.1,1110.7 L1163.8,1112.2 L1159.5,1113.6 L1155.2,1115 L1150.8,1116.4 L1146.4,1117.7 L1141.9,1118.9 L1137.4,1120.1 L1132.8,1121.3 L1128.2,1122.4 L1123.6,1123.5 L1118.9,1124.5 L1114.2,1125.5 L1109.5,1126.4 L1104.8,1127.3 L1100,1128.1 L1095.2,1128.9 L1090.4,1129.7 L1085.5,1130.4 L1080.6,1131 L1075.8,1131.6 L1070.9,1132.1 L1065.9,1132.6 L1061,1133.1 L1056.1,1133.5 L1051.1,1133.8 L1046.2,1134.1 L1041.2,1134.4 L1036.2,1134.6 L1031.3,1134.7 L1026.3,1134.8 L1021.3,1134.9 L1016.3,1134.9 L1011.4,1134.9 L1006.4,1134.8 L1001.4,1134.7 L996.5,1134.5 L991.5,1134.3 L986.6,1134.1 L981.6,1133.8 L976.7,1133.4 L971.8,1133.1 L966.9,1132.6 L962,1132.2 L957.1,1131.7 L952.2,1131.1 L947.4,1130.5 L942.6,1129.9 L937.8,1129.2 L933,1128.5 L928.2,1127.8 L923.5,1127 L918.8,1126.2 L914.1,1125.3 L909.4,1124.5 L904.8,1123.5 L900.1,1122.6 L895.6,1121.6 L891,1120.6 L886.5,1119.5 L882,1118.4 L877.5,1117.3 L873.1,1116.1 L868.7,1114.9 L864.3,1113.7 L860,1112.4 L855.7,1111.2 L851.4,1109.9 L847.2,1108.5 L843,1107.1 L838.9,1105.7 L834.8,1104.3 L830.7,1102.9 L826.7,1101.4 L822.7,1099.9 L818.8,1098.3 L814.9,1096.8 L811.1,1095.2 L807.3,1093.6 L803.6,1091.9 L799.9,1090.2 L796.2,1088.5 L792.6,1086.8 L789.1,1085.1 L785.6,1083.3 L782.2,1081.5 L778.8,1079.7 L775.4,1077.9 L772.2,1076 L769,1074.1 L765.8,1072.2 L762.7,1070.3 L759.7,1068.3 L756.7,1066.4 L753.8,1064.4 L751,1062.4 L748.2,1060.3 L745.5,1058.3 L742.8,1056.2 L740.2,1054.1 L737.7,1051.9 L735.3,1049.8 L732.9,1047.6 L730.6,1045.5 L728.4,1043.3 L726.3,1041 L724.2,1038.8 L722.2,1036.5 L720.3,1034.3 L718.5,1032 L716.7,1029.6 L715.1,1027.3 L713.5,1025 L712,1022.6 L710.5,1020.2 L709.2,1017.8 L707.9,1015.4 L706.8,1013 L705.7,1010.6 L704.7,1008.1 L703.8,1005.7 L703,1003.2 L702.3,1000.7 L701.6,998.2 L701.1,995.7 L700.7,993.2Z" stroke-width="4"/>
<path d="M716,990 C716.8,984.7 717.8,966.7 721,958 C724.2,949.3 726.8,946 735,938 C743.2,930 756.7,919 770,910 C783.3,901 807.5,888.3 815,884" stroke-width="3.2"/>
<path d="M1270,1000 C1268.7,1005.8 1267,1023.7 1262,1035 C1257,1046.3 1243.7,1062.5 1240,1068" stroke-width="3.2"/>
<ellipse cx="991.3" cy="981.2" rx="187.1" ry="90" transform="rotate(2.68 991.3 981.2)" stroke-width="4.6"/>
<path d="M800.4,980.5 L800,975.5 L800.1,970.6 L800.8,965.7 L802,960.8 L803.7,956 L805.9,951.2 L808.6,946.6 L811.9,942 L815.6,937.5 L819.8,933.2 L824.5,929 L829.6,924.9 L835.2,921 L841.2,917.2 L847.6,913.7 L854.4,910.3 L861.6,907.1 L869.1,904.1 L877,901.3 L885.2,898.7 L893.7,896.4 L902.4,894.3 L911.4,892.4 L920.6,890.8 L930,889.4 L939.6,888.3 L949.3,887.4 L959.1,886.8 L969.1,886.5 L979,886.4 L989,886.5 L999.1,887 L1009.1,887.7 L1019,888.6 L1028.9,889.8 L1038.6,891.2 L1048.3,892.9 L1057.8,894.9 L1067.1,897 L1076.1,899.4 L1085,902.1 L1093.6,904.9 L1101.9,907.9 L1110,911.2 L1117.6,914.6 L1125,918.3 L1132,922.1 L1138.6,926 L1144.8,930.1 L1150.5,934.4 L1155.9,938.8 L1160.7,943.3 L1165.2,947.9 L1169.1,952.6 L1172.6,957.3 L1175.5,962.2 L1178,967.1 L1179.9,972 L1181.3,976.9 L1182.2,981.9 L1182.6,986.9 L1182.5,991.8 L1181.8,996.7" stroke-width="3.2"/>
<path d="M809.5,955 C809,959.2 806.7,972.5 806.5,980 C806.3,987.5 807.4,994.7 808.5,1000 C809.6,1005.3 812.2,1010 813,1012" stroke-width="4.6"/>
<ellipse cx="996" cy="989.5" rx="45" ry="23" stroke-width="5.1"/>
<ellipse cx="996" cy="988.5" rx="33" ry="15" stroke-width="3.6"/>
<path d="M950.5,845.7 L950.5,886.8" stroke-width="3.6"/>
<path d="M944.6,845.7 L915.2,894.6" stroke-width="3.6"/>
<path d="M950.5,847 L932.8,888.8" stroke-width="3.6"/>
<path d="M950.5,866.5 L1000,866" stroke-width="3.6"/>
<path d="M807.5,874 L805.5,947.5" stroke-width="3.6"/>
<path d="M811.4,873 L835,924" stroke-width="3.6"/>
<path d="M818,871 L842,921" stroke-width="3.6"/>
<path d="M827,888.8 L925,869.2" stroke-width="3.6"/>
<path d="M723.3,931.8 L807.5,875" stroke-width="3.6"/>
<path d="M746.8,935.8 L805.5,898.5" stroke-width="3.6"/>
<path d="M725.3,936 L805.5,980.8" stroke-width="3.6"/>
<path d="M776,955.3 L805.5,941.6" stroke-width="3.6"/>
<path d="M776,955.3 L805.5,974" stroke-width="3.6"/>
<path d="M729,947.5 L727.2,1002" stroke-width="3.6"/>
<path d="M803.6,982.8 L801.6,1018" stroke-width="3.6"/>
<path d="M719.4,1006.3 L823.2,1025.8" stroke-width="3.6"/>
<path d="M712,1013 L810,1028" stroke-width="3.6"/>
<path d="M825.1,1025.8 L825.1,1067" stroke-width="3.6"/>
<path d="M768.3,1078.7 L885.8,1065" stroke-width="3.6"/>
<path d="M887.8,1065 L885.8,1117.9" stroke-width="3.6"/>
<path d="M768.3,1080.7 L885.8,1119.9" stroke-width="3.6"/>
<path d="M891.7,1119.9 L983.8,1084.6" stroke-width="3.6"/>
<path d="M895,1116 L980,1088" stroke-width="3.6"/>
<path d="M983.8,1084.6 L981.8,1135.5" stroke-width="3.6"/>
<path d="M1032.7,1135 L1060.2,1078.5 L1077.3,1076.8 L1077.7,1130" stroke-width="3.6"/>
<path d="M1040,1135 L1065,1083" stroke-width="3.6"/>
<path d="M1135.3,1112.6 L1142.1,1051.2 L1152,1048 L1172.8,1109.2 L1135.3,1115" stroke-width="3.6"/>
<path d="M1141,1110 L1147,1062" stroke-width="3.6"/>
<path d="M1179.6,1005 L1179.6,1064.8 L1217.5,1081.9" stroke-width="3.6"/>
<path d="M1179.6,1102 L1261.5,1051.2" stroke-width="3.6"/>
<path d="M1183,1003.4 L1261.5,1041" stroke-width="3.6"/>
<path d="M1185,1009 L1258,1045" stroke-width="3.6"/>
<path d="M1263.8,1000 L1263.8,1041" stroke-width="3.6"/>
<path d="M1265.8,980 L1265.8,1036" stroke-width="3.6"/>
<path d="M1182,1002 L1263,1034" stroke-width="3.6"/>
<path d="M1182,1008 L1258,1040" stroke-width="3.6"/>
<path d="M1206.7,913.3 L1206.7,957.7" stroke-width="3.6"/>
<path d="M1211.6,923 L1253.5,965" stroke-width="3.6"/>
<path d="M1177,957.7 L1283,972.5" stroke-width="3.6"/>
<path d="M1180,963 L1283,977" stroke-width="3.6"/>
<path d="M1095.8,859 L1088.4,898.5" stroke-width="3.6"/>
<path d="M1095.8,859 L1034,888.7" stroke-width="3.6"/>
<path d="M1090,860 L1030,884" stroke-width="3.6"/>
<path d="M1093,878.8 L1219,901" stroke-width="3.6"/>
<path d="M1000,866 L1086,859" stroke-width="3.6"/>
<path d="M230.6,226 L297,200.5 L316,199 L368,222.6 L357,331.6" stroke-width="5.1"/>
<path d="M230.6,226 L232,235" stroke-width="4.1"/>
<path d="M230.6,226 C229.8,231.7 228.8,237.7 226,260 C223.2,282.3 217.8,326.7 214,360 C210.2,393.3 205.5,438.7 203,460 C200.5,481.3 199.7,483.3 199,488" stroke-width="4.6"/>
<path d="M237,232 C236,243.3 233.8,272 231,300 C228.2,328 223.8,371.6 220,400 C216.2,428.4 210.4,458.8 208.5,470.6" stroke-width="3.6"/>
<path d="M243,237 L294,218 L268.5,455 L208.5,470.6Z" stroke-width="4.1"/>
<path d="M296,220 L308,207 L276,458 L264,460Z" fill="#000" stroke-width="2"/>
<path d="M308,205 L272,458" stroke-width="4.1"/>
<path d="M355.5,320 L346,413 L338,480 L333,545" stroke-width="5.1"/>
<path d="M199.5,487.4 C199.2,489.5 198,494.6 198,500 C198,505.4 198.9,513 199.5,520 C200.1,527 201.1,538.6 201.4,542.3" stroke-width="5.4"/>
<path d="M201.4,542.3 C208.7,544.6 230.2,551.2 245,556 C259.8,560.8 279.3,568.6 290.4,570.8 C301.4,573 305,571.9 311.3,569 C317.6,566.1 324.9,561.9 328.3,553.7 C331.8,545.5 331.1,532 332,520 C332.9,508.1 333.7,488.3 334,482" stroke-width="5.4"/>
<path d="M199.5,487.4 L269.6,464.6 L334,481.7" stroke-width="5.1"/>
<path d="M218.4,495 C220.9,492 237.3,486.7 242,485 C246.7,483.3 261,478 265.8,477.9 C270.6,477.8 285.4,482.7 290,484 C294.6,485.3 309.5,487.6 311.3,491.2 C313.1,494.8 308.8,513.9 308,520 C307.2,526.1 308.3,549.5 303.7,551.8 C299.1,554.1 270.3,544.9 262,543 C253.7,541.1 224.8,535.7 220.3,532.9 C215.8,530.1 217.2,518.8 217,515 C216.8,511.2 215.9,498 218.4,495Z" stroke-width="5.6"/>
<path d="M227,502 L226,528" stroke-width="3.6"/>
<path d="M302,496 L299,549" stroke-width="4.6"/>
<path d="M355.3,332 L481,474.7 L482,480 L478,492" stroke-width="4.9"/>
<path d="M354,342.7 L475.3,479" stroke-width="4.9"/>
<path d="M351.3,356 L476.7,488 L478,504" stroke-width="4.9"/>
<path d="M351.3,370.7 L471.3,491" stroke-width="4.9"/>
<path d="M348.7,386.7 L471.3,517.3" stroke-width="4.9"/>
<path d="M346,425.3 L437,491 L440,495" stroke-width="4.9"/>
<path d="M338,480 L423.3,544" stroke-width="4.9"/>
<path d="M336.7,505.3 L383.3,520 L423.3,544 L476.7,524 L478,504" stroke-width="4.9"/>
<path d="M334,738 L335,726 Q337,718.5 347,718.5 Q357,718.5 359,726 L359,738 Z" fill="#000" stroke="none"/>
<path d="M342.5,726.5 L355,726.5 L355,730 L342.5,730 Z" fill="#fcfdfb" stroke="none"/>
<path d="M358.5,729 L345,1036" stroke-width="5.1"/>
<path d="M334.5,730 L320.5,1036" stroke-width="6.6"/>
<path d="M320.5,1036 C320.9,1037.2 320.9,1041.5 323,1043 C325.1,1044.5 329.8,1045.2 333,1045 C336.2,1044.8 340,1043.5 342,1042 C344,1040.5 344.5,1037 345,1036" stroke-width="5.6"/>
<path d="M356,745 L351,746 L340,754 L336,755 M354.9,770 L349.9,771 L338.9,779 L334.9,780 M353.9,795 L348.9,796 L337.8,804 L333.8,805 M352.8,820 L347.8,821 L336.7,829 L332.7,830 M351.8,845 L346.8,846 L335.6,854 L331.6,855 M350.7,870 L345.7,871 L334.5,879 L330.5,880 M349.7,895 L344.7,896 L333.4,904 L329.4,905 M348.6,920 L343.6,921 L332.3,929 L328.3,930 M347.6,945 L342.6,946 L331.2,954 L327.2,955 M346.5,970 L341.5,971 L330.1,979 L326.1,980 M345.5,995 L340.5,996 L329,1004 L325,1005 M344.4,1020 L339.4,1021 L328,1029 L324,1030 " stroke-width="4.4"/>
<circle cx="279.6" cy="1098.8" r="8.3" stroke-width="7.1"/>
<path d="M272,1108 C263,1118 264,1136 274,1144 C282,1151 295,1153 305,1152" stroke-width="6.1"/>
<path d="M337,1099 C348,1104 352,1118 350,1130 C348,1142 340,1149 330,1150 L305,1152" stroke-width="5.6"/>
<path d="M288,1093 L309,1091" stroke-width="7.6"/>
<path d="M309.5,1084.5 L336,1083.5 L336.5,1099.5 L310,1100 Z" stroke-width="5.6"/>
<path d="M310.5,1100 L311,1140" stroke-width="5.6"/>
<path d="M335.5,1100 L336,1114" stroke-width="5.6"/>
<path d="M287,1120.5 L310,1120" stroke-width="6.6"/>
<path d="M292,1124 L293,1141" stroke-width="5.6"/>
<path d="M314,1127 L315,1141" stroke-width="5.6"/>
<path d="M322,1118 L330,1138" stroke-width="5.1"/>
<path d="M290,1150 L306,1151" stroke-width="6.6"/>
<path d="M1018.8,36 L1050.3,36 L1050.3,55.3 L1018.8,55.3 Z" stroke-width="5.6"/>
<path d="M1018.5,57 L1049,57 L1048,80 L1045.5,97 L1041,115 L1038,124.5 L1024.5,124.5 L1021.5,110 L1019.5,95 Z" fill="#000" stroke="none"/>
<path d="M1030,65 L1037.5,65 L1036,80 L1034,87 L1032.5,80 Z" fill="#fcfdfb" stroke="none"/>
<path d="M1021.5,58.5 L1028.5,58.5 L1027,64 L1022,64 Z" fill="#fcfdfb" stroke="none"/>
<path d="M1042.5,58.5 L1047,58.5 L1046.5,66 L1043,66 Z" fill="#bbb" stroke="none"/>
<path d="M897,1286.6 L902.7,1282 L919.8,1282 L922,1276.4 L925.5,1273.5 L930,1283.2 L930.6,1308.2 L925.5,1321.9 L908.4,1324.1 L900.5,1323 L898.2,1328.7 L893,1327.5 L893.6,1316.2 L894.8,1293.4Z" fill="#000" stroke-width="1.5"/>
<path d="M907.5,1295 L914,1295 M905.5,1309 L913,1308.5 M908.5,1315 L909.5,1317" stroke="#fcfdfb" stroke-width="1.6" stroke-linecap="butt"/>
<path d="M1021,1285.5 L1026.7,1278.6 L1031.2,1278.6 L1032.4,1287.7 L1050.6,1288.9 L1055.1,1294.6 L1054,1333.2 L1050.6,1334.4 L1049.4,1325.3 L1034.7,1327.5 L1022.2,1323 L1017.6,1316.2 L1018.7,1292.3Z" fill="#000" stroke-width="1.5"/>
<path d="M1034,1300 L1043.5,1300.5 M1036,1314 L1041,1314" stroke="#fcfdfb" stroke-width="1.6" stroke-linecap="butt"/>
<path d="M887,1432 C887.4,1430.9 888.3,1423.7 890.4,1422.4 C892.5,1421.1 901.5,1420.6 905,1420.5 C908.5,1420.4 918.2,1419.9 920.4,1421.2 C922.6,1422.5 923.5,1428.6 924,1432 C924.5,1435.4 924.5,1445.8 924.5,1450 C924.5,1454.2 925.5,1465.6 924,1468 C922.5,1470.4 913.4,1469.1 912,1470.4 C910.6,1471.7 910.9,1477 912,1478.8 C913.1,1480.6 920.4,1483.5 921.6,1486 C922.8,1488.5 922,1496.7 922,1500 C922,1503.3 923,1511.4 921.6,1514 C920.2,1516.6 912.4,1521.5 909.6,1522 C906.8,1522.5 899.8,1521.6 897.6,1518.4 C895.4,1515.2 892.3,1500.9 891,1495 C889.7,1489.1 887.4,1473.2 886.8,1468 C886.2,1462.8 886,1454.2 886,1450 C886,1445.8 886.9,1434.1 887,1432" stroke-width="4.8"/>
<path d="M892,1427 C892.7,1431.4 895.8,1453.3 897,1460 C898.2,1466.7 899.3,1473.4 901,1477 C902.7,1480.6 908.9,1481.4 910,1487 C911.1,1492.6 909.7,1514.7 909.6,1519" stroke-width="4"/>
<path d="M903.5,1424 C903.8,1427.5 905.1,1443.9 906,1450 C906.9,1456.1 908.8,1465.5 910.5,1470 C912.2,1474.5 917.9,1482.1 919,1484" stroke-width="4"/>
<path d="M910.8,1434.4 L922.8,1434.4 M910.8,1434.4 L910.8,1468" stroke-width="4.2"/>
<path d="M1009.2,1384 C1009.5,1382.6 1009.6,1373.7 1011.6,1372 C1013.6,1370.3 1023.2,1369.3 1026,1369.6 C1028.8,1369.9 1033.6,1370.6 1035.6,1374.4 C1037.6,1378.2 1041.5,1394.6 1042.8,1402 C1044.1,1409.4 1046,1431.8 1046.4,1438 C1046.8,1444.2 1046.3,1451.2 1046,1455 C1045.7,1458.8 1046.3,1468.2 1044,1470.4 C1041.7,1472.6 1029.9,1474.3 1026,1474 C1022.1,1473.7 1012.5,1470.8 1010.4,1468 C1008.3,1465.2 1008.3,1454.5 1008,1450 C1007.7,1445.5 1007,1432.7 1008,1429.6 C1009,1426.5 1014.9,1425.4 1016.4,1423.6 C1017.9,1421.8 1022,1416 1021.2,1414 C1020.4,1412 1010.6,1410.3 1009.2,1406.8 C1007.8,1403.3 1009.2,1386.7 1009.2,1384" stroke-width="4.8"/>
<path d="M1018.8,1376 C1019.2,1379.9 1021,1397.5 1022,1405 C1023,1412.5 1025.5,1428.4 1026,1432" stroke-width="4"/>
<path d="M1025,1374.4 C1025.4,1378.5 1027.2,1397.3 1028,1405 C1028.8,1412.7 1030.4,1428.4 1030.8,1432" stroke-width="4"/>
<path d="M1010.4,1432 L1020,1439.2 L1044,1439.2" stroke-width="4.2"/>
<ellipse cx="949.5" cy="1690" rx="132.5" ry="63" stroke-width="4.4"/>
<path d="M1080.8,1709.5 L1080.3,1713 L1079.4,1716.4 L1078.1,1719.8 L1076.5,1723.2 L1074.6,1726.5 L1072.3,1729.8 L1069.6,1733 L1066.7,1736.2 L1063.4,1739.2 L1059.8,1742.2 L1055.9,1745.1 L1051.7,1747.8 L1047.2,1750.5 L1042.5,1753 L1037.5,1755.4 L1032.3,1757.7 L1026.8,1759.8 L1021.1,1761.8 L1015.2,1763.6 L1009.2,1765.3 L1003,1766.8 L996.6,1768.1 L990.1,1769.2 L983.5,1770.2 L976.8,1771 L970.1,1771.7 L963.2,1772.1 L956.4,1772.4 L949.5,1772.5 L942.6,1772.4 L935.8,1772.1 L928.9,1771.7 L922.2,1771 L915.5,1770.2 L908.9,1769.2 L902.4,1768.1 L896,1766.8 L889.8,1765.3 L883.8,1763.6 L877.9,1761.8 L872.2,1759.8 L866.7,1757.7 L861.5,1755.4 L856.5,1753 L851.8,1750.5 L847.3,1747.8 L843.1,1745.1 L839.2,1742.2 L835.6,1739.2 L832.3,1736.2 L829.4,1733 L826.7,1729.8 L824.4,1726.5 L822.5,1723.2 L820.9,1719.8 L819.6,1716.4 L818.7,1713 L818.2,1709.5" stroke-width="4.4"/>
<path d="M817,1690 L818,1707 M1082,1690 L1081,1707" stroke-width="4.1"/>
<path d="M838.5,1658 L875,1657.5 L875.5,1694.5 L839.5,1694.5Z M839,1672 L875,1671.5" stroke-width="4.6"/>
<path d="M1024,1660 L1060.5,1659.5 L1061.5,1701.5 L1025.5,1702Z M1024.5,1675 L1061,1674" stroke-width="4.6"/>
<ellipse cx="949.5" cy="1684" rx="56.5" ry="32" fill="#fcfdfb" stroke-width="4.6"/>
<path d="M1004.6,1692.9 L1003.8,1694.8 L1002.8,1696.7 L1001.4,1698.5 L999.8,1700.3 L998,1702 L995.9,1703.7 L993.6,1705.2 L991.1,1706.7 L988.4,1708.1 L985.5,1709.4 L982.4,1710.7 L979.2,1711.7 L975.8,1712.7 L972.3,1713.6 L968.7,1714.3 L964.9,1714.9 L961.1,1715.4 L957.3,1715.7 L953.4,1715.9 L949.5,1716 L945.6,1715.9 L941.7,1715.7 L937.9,1715.4 L934.1,1714.9 L930.3,1714.3 L926.7,1713.6 L923.2,1712.7 L919.8,1711.7 L916.6,1710.7 L913.5,1709.4 L910.6,1708.1 L907.9,1706.7 L905.4,1705.2 L903.1,1703.7 L901,1702 L899.2,1700.3 L897.6,1698.5 L896.2,1696.7 L895.2,1694.8 L894.4,1692.9" stroke-width="4.1"/>
<ellipse cx="950" cy="1673" rx="48" ry="22" fill="#fcfdfb" stroke-width="3.8"/>
<ellipse cx="951" cy="1664" rx="38" ry="17" fill="#fcfdfb" stroke-width="3.6"/>
<path d="M937.5,1624 L937,1660 Q953,1668 969,1660 L969.5,1624 Z" fill="#fcfdfb" stroke-width="4.2"/>
<ellipse cx="953.5" cy="1625" rx="16" ry="5" fill="#fcfdfb" stroke-width="3.8"/>
<path d="M938,1638 L969,1638" stroke-width="3.6"/>
<circle cx="953.3" cy="1651.5" r="2.6" fill="#000"/>
<path d="M922.5,1578 L926,1650 L938.4,1660 L935.7,1578 Z" fill="#fcfdfb" stroke="none"/>
<path d="M922.5,1580 L926,1650 M935.7,1580 L938.4,1660" stroke-width="4.2"/>
<ellipse cx="927.5" cy="1560" rx="9.5" ry="19.5" stroke-width="5.1"/>
<path d="M923.5,1550 L930,1574" stroke-width="3.6"/>
<path d="M981,1578 L968.4,1630 L983,1648 L990,1578 Z" fill="#fcfdfb" stroke="none"/>
<path d="M981,1581 L968.4,1630 M990,1581 L983,1648" stroke-width="4.2"/>
<ellipse cx="990" cy="1559" rx="9.5" ry="20" stroke-width="5.1"/>
<path d="M992,1552 L986,1574" stroke-width="3.6"/>
<text x="1374.3" y="46.5" class="lb">4</text>
<text x="44.4" y="536" class="lb">3</text>
<text x="38" y="881.5" class="lb">2</text>
<text x="1533" y="913.5" class="lb">8</text>
<text x="1210.5" y="1322" class="lb">7</text>
<text x="1219" y="1514" class="lb">6</text>
<text x="1208" y="1658" class="lb">3</text>
<path d="M1362.4,14.8 L1365.6,14.8 L1365.6,46.5 L1362.4,46.5 Z M1362.4,14.8 L1362.4,23.3 L1354.6,23.3 L1354.6,20.4 L1359.5,19.3 Z" fill="#000" stroke="none"/>
<path d="M1511.4,196.5 L1514.6,196.5 L1514.6,228 L1511.4,228 Z M1511.4,196.5 L1511.4,205 L1503.7,205 L1503.7,202.1 L1508.5,201 Z" fill="#000" stroke="none"/>
<path d="M1534.9,196.5 L1538.1,196.5 L1538.1,228 L1534.9,228 Z M1534.9,196.5 L1534.9,205 L1527.6,205 L1527.6,202.1 L1532,201 Z" fill="#000" stroke="none"/>
<path d="M33.4,504.5 L36.6,504.5 L36.6,535.5 L33.4,535.5 Z M33.4,504.5 L33.4,513 L25.4,513 L25.4,510.1 L30.5,509 Z" fill="#000" stroke="none"/>
<path d="M27.9,851 L31.1,851 L31.1,881 L27.9,881 Z M27.9,851 L27.9,859.5 L21,859.5 L21,856.6 L25,855.5 Z" fill="#000" stroke="none"/>
<path d="M1084,67.7 L1341.5,34" stroke-width="3.6"/>
<path d="M1375.5,285.6 L1512.8,231.4" stroke-width="3.6"/>
<path d="M68,535.5 L177.2,508.2" stroke-width="3.6"/>
<path d="M93.3,864.9 L304,859.7" stroke-width="3.6"/>
<path d="M1370.6,966.7 L1506,906.4" stroke-width="3.6"/>
<path d="M1078,1332.7 L1197.7,1310.5" stroke-width="3.6"/>
<path d="M1056,1454.6 L1182.9,1489" stroke-width="3.6"/>
<path d="M1089,1662.4 L1192.3,1645.5" stroke-width="3.6"/>
<text x="1422.5" y="1785.5" font-family="Liberation Serif" font-size="40" stroke="none"><tspan fill="#4d6fb8">m</tspan><tspan fill="#5cb547">o</tspan><tspan fill="#e874b4">t</tspan><tspan fill="#2e9e3e">o</tspan><tspan fill="#e4541d">r</tspan><tspan fill="#f2a21c">u</tspan><tspan fill="#f7c917">f</tspan><tspan fill="#3a3a2a" font-size="17">.de</tspan></text>
</g>
</svg>
</body></html>
